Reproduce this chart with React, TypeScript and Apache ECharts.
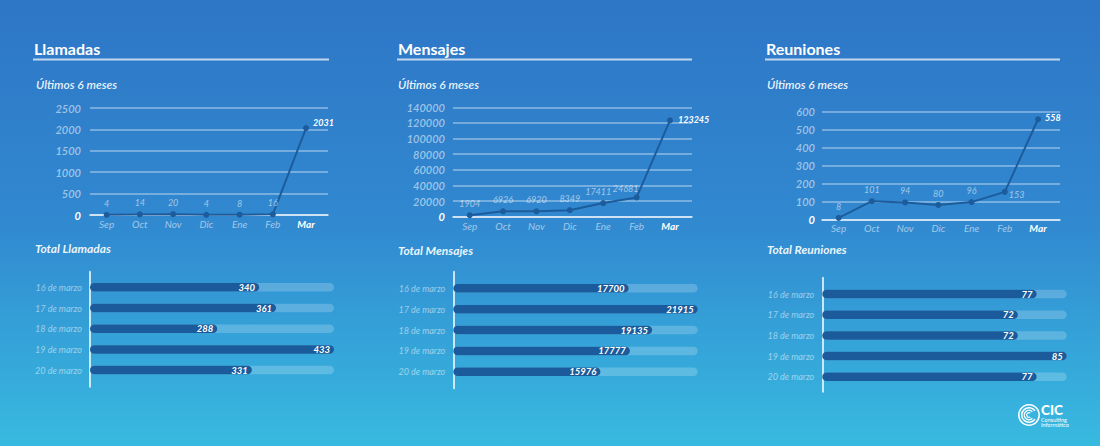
import React, { useEffect, useRef } from "react";
import * as echarts from "echarts";

// ---- data ----
const months = ["Sep", "Oct", "Nov", "Dic", "Ene", "Feb", "Mar"];
const llamadasMes = [4, 14, 20, 4, 8, 16, 2031];
const mensajesMes = [1904, 6926, 6920, 8349, 17411, 24681, 123245];
const reunionesMes = [8, 101, 94, 80, 96, 153, 558];

const dias = ["16 de marzo", "17 de marzo", "18 de marzo", "19 de marzo", "20 de marzo"];
const llamadasDia = [340, 361, 288, 433, 331];
const mensajesDia = [17700, 21915, 19135, 17777, 15976];
const reunionesDia = [77, 72, 72, 85, 77];

const lineAxisMax = [2500, 140000, 600];
const lineAxisStep = [500, 20000, 100];
const barAxisMin = [130, 7000, 20];

const titles = ["Llamadas", "Mensajes", "Reuniones"];
const subtitle = "Últimos 6 meses";
const totals = ["Total Llamadas", "Total Mensajes", "Total Reuniones"];

// ---- layout / style ----
const FONT = "Lato, 'Open Sans', sans-serif";
const panels = [
  {
    titleX: 34, ruleRight: 329, subX: 36, totalX: 35, totalY: 248,
    line: { left: 90, right: 328, top: 108, bottom: 215, margin: 9 },
    bar: { left: 90, right: 334, top: 277, rowH: 20.68, axisTop: 271.7, axisBottom: 386.7 },
    overrides: {} as Record<number, any>,
    lastLabel: { distance: 4, offset: [0, -6] },
  },
  {
    titleX: 398, ruleRight: 692, subX: 398, totalX: 398, totalY: 250,
    line: { left: 453, right: 692, top: 107.3, bottom: 216.7, margin: 8 },
    bar: { left: 453.3, right: 697.7, top: 277.9, rowH: 20.85, axisTop: 271.7, axisBottom: 388.3 },
    overrides: {
      4: { position: "top", offset: [-5, 0] },
      5: { position: "top", offset: [-11, 3] },
    } as Record<number, any>,
    lastLabel: { distance: 5, offset: [0, -1] },
  },
  {
    titleX: 766, ruleRight: 1060, subX: 767, totalX: 767, totalY: 249,
    line: { left: 822, right: 1060, top: 111.7, bottom: 219.3, margin: 7 },
    bar: { left: 822.3, right: 1066.7, top: 283.7, rowH: 20.675, axisTop: 277.7, axisBottom: 391.7 },
    overrides: { 5: { position: "right", distance: 1, offset: [0, 3] } } as Record<number, any>,
    lastLabel: { distance: 4, offset: [0, -2] },
  },
];

const lineValues = [llamadasMes, mensajesMes, reunionesMes];
const barValues = [llamadasDia, mensajesDia, reunionesDia];

const LINE_COLOR = "#1c5c9c";
const BAR_COLOR = "#1b5b9b";
const SOFT = "rgba(255,255,255,0.55)";

function buildOption() {
  const grid: any[] = [];
  const xAxis: any[] = [];
  const yAxis: any[] = [];
  const series: any[] = [];
  const graphic: any[] = [];

  panels.forEach((p, k) => {
    // ---- line chart ----
    const gi = grid.length;
    grid.push({
      left: p.line.left,
      top: p.line.top,
      width: p.line.right - p.line.left,
      height: p.line.bottom - p.line.top,
      containLabel: false,
    });
    xAxis.push({
      gridIndex: gi,
      type: "value",
      min: -0.5,
      max: 6.66,
      interval: 0.5,
      axisLine: { show: true, lineStyle: { color: "rgba(255,255,255,0.85)", width: 1.5 } },
      axisTick: { show: false },
      splitLine: { show: false },
      axisLabel: {
        margin: 4,
        color: SOFT,
        fontSize: 10,
        fontStyle: "italic",
        fontFamily: FONT,
        showMinLabel: true,
        showMaxLabel: true,
        formatter: (v: number) => {
          const i = Math.round(v);
          if (Math.abs(v - i) > 1e-6 || i < 0 || i >= months.length) return "";
          return i === months.length - 1 ? "{b|" + months[i] + "}" : months[i];
        },
        rich: {
          b: { color: "#ffffff", fontWeight: "bold", fontStyle: "italic", fontSize: 10, fontFamily: FONT },
        },
      },
    });
    yAxis.push({
      gridIndex: gi,
      type: "value",
      min: 0,
      max: lineAxisMax[k],
      interval: lineAxisStep[k],
      axisLine: { show: false },
      axisTick: { show: false },
      splitLine: { show: true, lineStyle: { color: "rgba(255,255,255,0.45)", width: 1.5 } },
      axisLabel: {
        margin: p.line.margin,
        color: SOFT,
        fontSize: 11,
        fontWeight: 600,
        fontStyle: "italic",
        fontFamily: FONT,
        formatter: (v: number) => (v === 0 ? "{z|0}" : String(v)),
        rich: {
          z: { color: "#ffffff", fontWeight: "bold", fontStyle: "italic", fontSize: 11, fontFamily: FONT },
        },
      },
    });
    const vals = lineValues[k];
    series.push({
      type: "line",
      xAxisIndex: gi,
      yAxisIndex: gi,
      symbol: "circle",
      symbolSize: 6,
      lineStyle: { color: LINE_COLOR, width: 2 },
      itemStyle: { color: LINE_COLOR },
      z: 5,
      label: {
        show: true,
        position: "top",
        distance: 4,
        color: SOFT,
        fontSize: 9,
        fontStyle: "italic",
        fontFamily: FONT,
        formatter: (prm: any) => String(prm.value[1]),
      },
      data: vals.map((v, i) => {
        if (i === vals.length - 1) {
          return {
            value: [i, v],
            label: {
              position: "right",
              distance: p.lastLabel.distance,
              offset: p.lastLabel.offset,
              color: "#ffffff",
              fontWeight: "bold",
            },
          };
        }
        if (p.overrides[i]) return { value: [i, v], label: p.overrides[i] };
        return [i, v];
      }),
    });

    // ---- bar chart ----
    const bi = grid.length;
    const bw = p.bar.right - p.bar.left;
    grid.push({
      left: p.bar.left,
      top: p.bar.top,
      width: bw,
      height: p.bar.rowH * dias.length,
      containLabel: false,
    });
    xAxis.push({
      gridIndex: bi,
      type: "value",
      min: barAxisMin[k],
      max: Math.max(...barValues[k]),
      show: false,
    });
    yAxis.push({
      gridIndex: bi,
      type: "category",
      inverse: true,
      data: dias,
      axisLine: { show: false },
      axisTick: { show: false },
      splitLine: { show: false },
      axisLabel: {
        margin: 8,
        color: "rgba(255,255,255,0.5)",
        fontSize: 9,
        fontStyle: "italic",
        fontFamily: FONT,
      },
    });
    series.push({
      type: "bar",
      xAxisIndex: bi,
      yAxisIndex: bi,
      barWidth: 8.5,
      showBackground: true,
      backgroundStyle: { color: "rgba(255,255,255,0.2)", borderRadius: 4.25 },
      itemStyle: { color: BAR_COLOR, borderRadius: 4.25 },
      label: {
        show: true,
        position: "insideRight",
        distance: 4,
        color: "#ffffff",
        fontSize: 9.5,
        fontWeight: "bold",
        fontStyle: "italic",
        fontFamily: FONT,
      },
      data: barValues[k],
    });

    // ---- vertical axis line for the bar chart ----
    const ai = grid.length;
    grid.push({
      left: p.bar.left,
      top: p.bar.axisTop,
      width: bw,
      height: p.bar.axisBottom - p.bar.axisTop,
      containLabel: false,
    });
    xAxis.push({ gridIndex: ai, type: "value", min: 0, max: 1, show: false });
    yAxis.push({
      gridIndex: ai,
      type: "value",
      min: 0,
      max: 1,
      axisLine: { show: true, lineStyle: { color: "rgba(255,255,255,0.75)", width: 2 } },
      axisTick: { show: false },
      axisLabel: { show: false },
      splitLine: { show: false },
    });

    // ---- texts ----
    graphic.push(
      {
        type: "text",
        x: p.titleX,
        y: 48,
        style: {
          text: titles[k],
          font: `bold 16px ${FONT}`,
          fill: "#ffffff",
          verticalAlign: "middle",
        },
      },
      {
        type: "line",
        shape: { x1: p.titleX - 1, y1: 59.5, x2: p.ruleRight, y2: 59.5 },
        style: { stroke: "rgba(255,255,255,0.7)", lineWidth: 2 },
      },
      {
        type: "text",
        x: p.subX,
        y: 84,
        style: {
          text: subtitle,
          font: `italic 600 12px ${FONT}`,
          fill: "rgba(255,255,255,0.9)",
          verticalAlign: "middle",
        },
      },
      {
        type: "text",
        x: p.totalX,
        y: p.totalY,
        style: {
          text: totals[k],
          font: `italic bold 12px ${FONT}`,
          fill: "rgba(255,255,255,0.92)",
          verticalAlign: "middle",
        },
      }
    );
  });

  // ---- logo ----
  const cx = 1029;
  const cy = 415;
  graphic.push(
    { type: "ring", shape: { cx, cy, r: 11, r0: 9.4 }, style: { fill: "#ffffff" } },
    {
      type: "arc",
      shape: { cx, cy, r: 7.3, startAngle: Math.PI * 0.2, endAngle: Math.PI * 1.8, clockwise: true },
      style: { stroke: "#ffffff", lineWidth: 1.5, fill: "none" },
    },
    {
      type: "arc",
      shape: { cx, cy, r: 4.7, startAngle: Math.PI * 0.25, endAngle: Math.PI * 1.75, clockwise: true },
      style: { stroke: "#ffffff", lineWidth: 1.4, fill: "none" },
    },
    {
      type: "arc",
      shape: { cx, cy, r: 2.3, startAngle: Math.PI * 0.3, endAngle: Math.PI * 1.7, clockwise: true },
      style: { stroke: "#ffffff", lineWidth: 1.2, fill: "none" },
    },
    {
      type: "text",
      x: 1041,
      y: 409.5,
      style: { text: "CIC", font: `900 13.5px ${FONT}`, fill: "#ffffff", verticalAlign: "middle" },
    },
    {
      type: "text",
      x: 1041,
      y: 419.5,
      style: { text: "Consulting", font: `5.5px ${FONT}`, fill: "#ffffff", verticalAlign: "middle" },
    },
    {
      type: "text",
      x: 1041,
      y: 424.5,
      style: { text: "Informático", font: `5.5px ${FONT}`, fill: "#ffffff", verticalAlign: "middle" },
    }
  );

  return {
    animation: false,
    backgroundColor: new echarts.graphic.LinearGradient(0, 0, 0, 1, [
      { offset: 0, color: "#2e76c6" },
      { offset: 0.5, color: "#3189d0" },
      { offset: 1, color: "#38bae0" },
    ]),
    textStyle: { fontFamily: FONT },
    grid,
    xAxis,
    yAxis,
    series,
    graphic,
  };
}

export default function App() {
  const ref = useRef<HTMLDivElement>(null);
  useEffect(() => {
    if (!ref.current) return;
    const chart = echarts.init(ref.current, undefined, { renderer: "svg" });
    chart.setOption(buildOption() as any);
    return () => chart.dispose();
  }, []);
  return (
    <div
      ref={ref}
      style={{ position: "fixed", left: 0, top: 0, width: 1100, height: 446 }}
    />
  );
}
